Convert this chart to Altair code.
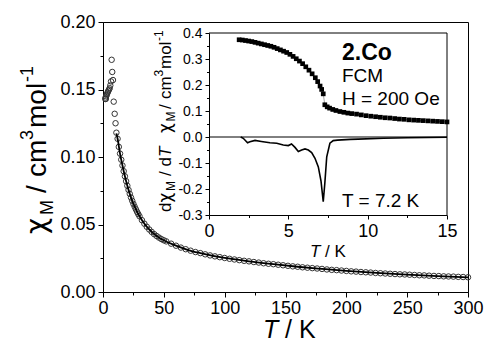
import altair as alt
import pandas as pd

FONT = "Liberation Sans"
GREEK = "DejaVu Sans"

# ---------------- main plot data (chi_M vs T, circles) ----------------
T_data = [1.9, 2.1, 2.3, 2.6, 3.0, 3.4, 3.9, 4.4, 5.0, 5.5, 6.0, 6.6, 7.1, 7.6, 8.2, 8.8, 9.6, 10.3, 11.0,
          12, 13, 14, 15, 16, 17, 18, 19, 20, 21, 22, 23, 24, 25, 26, 27, 28, 29, 30,
          32, 34, 36, 38, 40, 42, 44, 46, 48, 50,
          52, 56, 60, 64, 68, 72, 76, 80, 84, 88, 92, 96, 100, 104, 108, 112, 116, 120,
          124, 128, 132, 136, 140, 144, 148, 152, 156, 160, 164, 168, 172, 176, 180,
          184, 188, 192, 196, 200, 204, 208, 212, 216, 220, 224, 228, 232, 236, 240,
          244, 248, 252, 256, 260, 264, 268, 272, 276, 280, 284, 288, 292, 296, 300]
chi_data = [0.143, 0.144, 0.143, 0.145, 0.146, 0.147, 0.148, 0.149, 0.150, 0.151, 0.153, 0.156, 0.172,
            0.163, 0.157, 0.141, 0.132, 0.125, 0.118,
            0.1135, 0.1075, 0.1025, 0.0980, 0.0937, 0.0895, 0.0857, 0.0821, 0.0787, 0.0756, 0.0727,
            0.0700, 0.0676, 0.0653, 0.0632, 0.0613, 0.0594, 0.0577, 0.0561,
            0.0532, 0.0506, 0.0483, 0.0463, 0.0445, 0.0429, 0.0415, 0.0403, 0.0392, 0.0383,
            0.0375, 0.0358, 0.0343, 0.0329, 0.0317, 0.0306, 0.0296, 0.0288, 0.0279, 0.0271, 0.0264,
            0.0258, 0.0252, 0.0246, 0.0241, 0.0236, 0.0231, 0.0227,
            0.0222, 0.0218, 0.0213, 0.0209, 0.0206, 0.0202, 0.0198, 0.0194, 0.0190, 0.0187,
            0.0183, 0.0180, 0.0177, 0.0174, 0.0171,
            0.0167, 0.0164, 0.0162, 0.0159, 0.0156, 0.0153, 0.0151, 0.0148, 0.0146, 0.0144,
            0.0141, 0.0139, 0.0137, 0.0135, 0.0133,
            0.0131, 0.0130, 0.0128, 0.0126, 0.0124, 0.0123, 0.0121, 0.0119, 0.0118, 0.0116,
            0.0115, 0.0114, 0.0112, 0.0111, 0.0109]

# Curie-Weiss fit line
T_fit = [11.0, 12, 14, 16, 18, 20, 23, 26, 30, 35, 40, 45, 50, 60, 70, 80, 100, 120, 140, 160,
         180, 200, 225, 250, 275, 300]
chi_fit = [0.1175, 0.1135, 0.1025, 0.0937, 0.0857, 0.0787, 0.0700, 0.0632, 0.0561, 0.0494, 0.0445,
           0.0409, 0.0383, 0.0343, 0.0311, 0.0288, 0.0252, 0.0227, 0.0206, 0.0187, 0.0171, 0.0156,
           0.0141, 0.0129, 0.0118, 0.0109]

# ---------------- inset data ----------------
T_fcm = [1.9, 2.1, 2.3, 2.5, 2.7, 2.9, 3.1, 3.3, 3.5, 3.7, 3.9, 4.1, 4.3, 4.5, 4.7, 4.9, 5.1, 5.3,
         5.5, 5.7, 5.9, 6.1, 6.3, 6.5, 6.7, 6.85, 7.0, 7.1, 7.2, 7.3, 7.45, 7.6, 7.8, 8.0, 8.25,
         8.5, 8.75, 9.0, 9.3, 9.6, 9.9, 10.2, 10.5, 10.8, 11.1, 11.4, 11.7, 12.0, 12.3, 12.6,
         12.9, 13.2, 13.5, 13.8, 14.1, 14.4, 14.7, 15.0]
chi_fcm = [0.374, 0.373, 0.371, 0.369, 0.367, 0.364, 0.361, 0.358, 0.355, 0.352, 0.349, 0.345,
           0.340, 0.335, 0.330, 0.325, 0.318, 0.310, 0.301, 0.292, 0.282, 0.270, 0.257, 0.243,
           0.228, 0.213, 0.196, 0.183, 0.166, 0.124, 0.116, 0.111, 0.106, 0.102, 0.098, 0.095,
           0.092, 0.090, 0.088, 0.085, 0.082, 0.080, 0.078, 0.076, 0.074, 0.073, 0.071, 0.069,
           0.068, 0.066, 0.065, 0.064, 0.063, 0.062, 0.061, 0.060, 0.059, 0.058]

T_deriv = [2.0, 2.16, 2.43, 2.58, 2.9, 3.3, 3.84, 4.27, 4.68, 5.0, 5.2, 5.42, 5.63, 5.84, 6.05,
           6.26, 6.47, 6.68, 6.89, 7.06, 7.2, 7.3, 7.42, 7.62, 7.83, 8.1, 8.9, 9.4, 11.0, 12.5, 15.0]
d_deriv = [0.0, -0.005, -0.022, -0.018, -0.013, -0.017, -0.022, -0.024, -0.031, -0.033, -0.027,
           -0.040, -0.056, -0.050, -0.046, -0.050, -0.060, -0.082, -0.115, -0.170, -0.249, -0.178,
           -0.076, -0.024, -0.014, -0.012, -0.009, -0.008, -0.005, -0.003, -0.001]

main_x_ticks = [0, 25, 50, 75, 100, 125, 150, 175, 200, 225, 250, 275, 300]
main_y_ticks = [0, 0.025, 0.05, 0.075, 0.1, 0.125, 0.15, 0.175, 0.2]
inset_x_ticks = [0, 2.5, 5, 7.5, 10, 12.5, 15]
inset_y_ticks = [-0.3, -0.25, -0.2, -0.15, -0.1, -0.05, 0, 0.05, 0.1, 0.15, 0.2, 0.25, 0.3, 0.35, 0.4]

df_main = pd.DataFrame({"T": T_data, "chi": chi_data})
df_fit = pd.DataFrame({"T": T_fit, "chi": chi_fit})
df_fcm = pd.DataFrame({"T": T_fcm, "chi": chi_fcm})
df_der = pd.DataFrame({"T": T_deriv, "chi": d_deriv})
df_frame = pd.DataFrame({"T": [0, 15, 0], "T2": [15, 15, 15],
                         "chi": [0.4, -0.3, 0.0], "chi2": [0.4, 0.4, 0.0]})
dummy = pd.DataFrame({"k": [0]})


def axis(values, major_test, fmt_expr, size, orient, offset=0, tick=5, minor=3, pad=3):
    kw = dict(values=values, orient=orient, title=None, grid=False,
              labelExpr=f"({major_test}) ? {fmt_expr} : ''",
              tickSize={"condition": {"test": major_test, "value": tick}, "value": minor},
              labelFont=FONT, labelFontSize=size, labelColor="black",
              tickColor="black", domainColor="black", tickWidth=1, domainWidth=1,
              labelFlush=False, labelOverlap=False, labelPadding=pad)
    if offset:
        kw["offset"] = offset
    return alt.Axis(**kw)


x_main = alt.X("T:Q", scale=alt.Scale(domain=[0, 300], nice=False, zero=False),
               axis=axis(main_x_ticks, "datum.value % 50 === 0", "datum.label", 18, "bottom",
                         pad=2))
y_main = alt.Y("chi:Q", scale=alt.Scale(domain=[0, 0.2], nice=False, zero=False),
               axis=axis(main_y_ticks, "round(datum.value*1000) % 50 === 0",
                         "format(datum.value, '.2f')", 18, "left"))

x_in = alt.X("T:Q", scale=alt.Scale(domain=[0, 15], range=[106, 344], nice=False, zero=False),
             axis=axis(inset_x_ticks, "datum.value % 5 === 0", "datum.label", 18, "bottom",
                       offset=-77, tick=4, minor=2.5))
y_in = alt.Y("chi:Q", scale=alt.Scale(domain=[-0.3, 0.4], range=[193, 11], nice=False, zero=False),
             axis=axis(inset_y_ticks, "round(datum.value*100) % 10 === 0",
                       "replace(format(datum.value, '.1f'), '\u2212', '-')", 14, "left",
                       offset=-106, tick=4, minor=2.5))


def label(text, x, y, size, angle=0, italic=False, bold=False, font=FONT):
    kw = dict(text=text, font=font, fontSize=size, align="left", baseline="alphabetic",
              color="black")
    if angle:
        kw["angle"] = angle
    if italic:
        kw["fontStyle"] = "italic"
    if bold:
        kw["fontWeight"] = "bold"
    return alt.Chart(dummy).mark_text(**kw).encode(x=alt.value(x), y=alt.value(y))


circles = alt.Chart(df_main).mark_point(shape="circle", filled=False, size=30, strokeWidth=1,
                                        color="#333333", opacity=1).encode(x=x_main, y=y_main)
fit = alt.Chart(df_fit).mark_line(color="black", strokeWidth=1.8,
                                  interpolate="monotone").encode(x=x_main, y=y_main)

main_texts = [
    label("\u03c7", -57, 212, 28, angle=270, font=GREEK),
    label("M", -50, 193, 18, angle=270),
    label("/", -57, 171, 28, angle=270),
    label("cm", -57, 155, 28, angle=270),
    label("3", -70, 118, 18, angle=270),
    label("mol", -57, 106, 28, angle=270),
    label("-1", -70, 60, 18, angle=270),
    label("T", 160, 315.8, 25, italic=True),
    label("/ K", 182, 315.8, 25),
]

main_group = alt.layer(circles, fit, *main_texts)

fcm_line = alt.Chart(df_fcm).mark_line(color="#666666", strokeWidth=0.6).encode(x=x_in, y=y_in)
fcm_sq = alt.Chart(df_fcm).mark_square(size=22, color="black", filled=True,
                                       opacity=1).encode(x=x_in, y=y_in)
der = alt.Chart(df_der).mark_line(color="black", strokeWidth=1.6).encode(x=x_in, y=y_in)
frame = alt.Chart(df_frame).mark_rule(color="black", strokeWidth=1).encode(
    x=x_in, x2="T2:Q", y=y_in, y2="chi2:Q")

inset_texts = [
    label("\u03c7", 67.5, 111, 17, angle=270, font=GREEK),
    label("M", 71.7, 99.5, 12, angle=270),
    label("/", 67.5, 87, 17, angle=270),
    label("cm", 67.5, 77, 17, angle=270),
    label("3", 60, 54.5, 12, angle=270),
    label("mol", 67.5, 47, 17, angle=270),
    label("-1", 60, 19, 12, angle=270),
    label("d", 67.5, 190, 17, angle=270),
    label("\u03c7", 67.5, 180.5, 17, angle=270, font=GREEK),
    label("M", 71.7, 169, 12, angle=270),
    label("/", 67.5, 154, 17, angle=270),
    label("d", 67.5, 144.6, 17, angle=270),
    label("T", 67.5, 135, 17, angle=270, italic=True),
    label("T", 207, 235, 17, italic=True),
    label("/ K", 222, 235, 17),
    label("2.Co", 239, 38, 23, bold=True),
    label("FCM", 239, 60, 19),
    label("H = 200 Oe", 239, 83, 19),
    label("T = 7.2 K", 239, 185, 19),
]

inset_group = alt.layer(frame, fcm_line, fcm_sq, der, *inset_texts)

chart = alt.layer(main_group, inset_group).resolve_scale(
    x="independent", y="independent"
).properties(
    width=365, height=270,
    padding={"left": 103, "top": 22, "right": 16, "bottom": 51},
    autosize=alt.AutoSizeParams(type="none"),
    background="white",
).configure_view(stroke="black", strokeWidth=1)

chart.save("out.html", embed_options={"renderer": "svg", "actions": False})
